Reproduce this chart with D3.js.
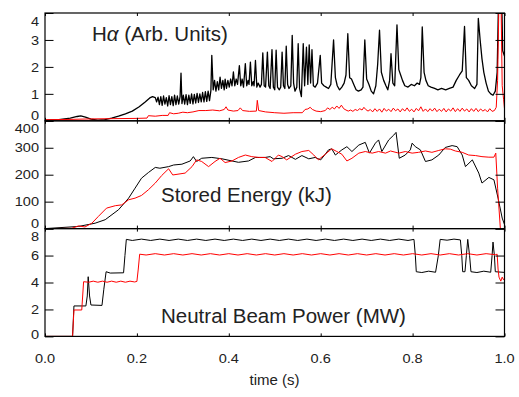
<!DOCTYPE html>
<html><head><meta charset="utf-8">
<script src="https://cdn.jsdelivr.net/npm/d3@7"></script>
<style>body{margin:0;background:#fff}svg{display:block}text{font-family:"Liberation Sans",Arial,sans-serif;fill:#222}</style>
</head><body><svg id="c" width="519" height="397"></svg>
<script>
// ---- data (time in s, value) ----
const xTicks = [0.0, 0.2, 0.4, 0.6, 0.8, 1.0];
const xTickLabels = ["0.0", "0.2", "0.4", "0.6", "0.8", "1.0"];
const haTicks = [0, 1, 2, 3, 4];
const weTicks = [0, 100, 200, 300, 400];
const nbTicks = [0, 2, 4, 6, 8];
const titles = ["H\u03b1 (Arb. Units)", "Stored Energy (kJ)", "Neutral Beam Power (MW)"];

const haBlack = [[0,0.02],[0.03,0.04],[0.055,0.1],[0.07,0.16],[0.078,0.18],[0.088,0.14],[0.1,0.06],[0.115,0.02],[0.13,0.04],[0.145,0.1],[0.16,0.17],[0.175,0.26],[0.19,0.36],[0.205,0.52],[0.218,0.7],[0.228,0.85],[0.234,0.9],[0.24,0.86],
[0.243,0.7],[0.246,0.88],[0.249,0.6],[0.252,0.9],[0.255,0.57],[0.258,0.92],[0.261,0.62],[0.264,0.86],[0.267,0.55],[0.27,0.93],[0.273,0.6],[0.276,0.9],[0.279,0.56],[0.282,0.95],[0.285,0.6],[0.288,0.92],[0.291,0.62],[0.294,0.9],[0.296,1.77],[0.298,0.64],[0.301,0.95],[0.304,0.62],[0.307,0.97],[0.31,0.6],[0.313,0.95],[0.316,0.65],[0.319,1.0],[0.322,0.63],[0.325,0.98],[0.328,0.66],[0.331,1.02],[0.334,0.68],[0.337,1.0],[0.34,0.7],[0.343,1.05],[0.346,0.7],[0.349,1.08],[0.352,0.72],[0.355,1.1],[0.358,0.75],[0.361,1.12],[0.363,2.43],[0.366,1.15],
[0.369,1.5],[0.372,1.1],[0.375,1.45],[0.378,1.15],[0.381,1.62],[0.384,1.2],[0.387,1.5],[0.39,1.15],[0.392,1.55],[0.395,1.2],[0.398,1.5],[0.401,1.25],[0.404,1.55],[0.407,1.3],[0.41,1.81],[0.413,1.3],[0.416,1.55],[0.419,1.35],[0.423,2.05],[0.426,1.3],[0.429,1.55],[0.432,1.25],[0.436,2.12],[0.439,1.3],[0.442,1.5],[0.444,1.35],[0.447,2.18],[0.45,1.3],[0.453,1.45],[0.455,1.3],[0.458,2.24],[0.461,1.25],[0.464,1.4],[0.468,1.25],[0.471,1.35],[0.474,2.52],[0.477,1.3],[0.48,1.25],[0.484,2.55],[0.487,1.3],[0.49,1.2],[0.494,2.64],[0.497,1.25],[0.5,1.15],[0.503,2.62],[0.506,1.25],[0.51,1.15],[0.513,1.25],[0.516,2.55],[0.519,1.3],[0.522,1.2],[0.525,2.77],[0.528,1.35],[0.531,1.2],[0.535,1.3],[0.538,3.17],[0.541,1.4],[0.544,1.1],[0.548,1.25],[0.551,2.86],[0.554,1.2],[0.558,0.9],[0.562,2.86],[0.565,1.3],[0.569,2.73],[0.572,1.35],[0.575,2.82],[0.578,1.4],[0.581,2.64],[0.584,1.3],[0.588,1.25],[0.593,1.4],[0.599,2.43],[0.602,1.4],[0.607,1.3],[0.612,1.25],[0.617,1.2],[0.622,1.35],[0.628,3.0],[0.632,1.6],[0.636,1.3],[0.641,1.15],[0.646,1.25],[0.651,1.4],[0.655,1.7],[0.659,3.23],[0.663,1.6],[0.667,1.55],[0.672,1.35],[0.677,1.15],[0.682,1.1],[0.688,1.15],[0.692,1.25],[0.696,3.0],[0.7,1.55],[0.705,1.35],[0.71,1.1],[0.715,1.0],[0.72,1.3],[0.724,2.1],[0.728,3.36],[0.732,1.8],[0.737,1.5],[0.742,1.3],[0.746,1.15],[0.75,1.5],[0.753,2.49],[0.757,1.4],[0.761,1.3],[0.766,3.56],[0.77,1.9],[0.774,1.7],[0.778,1.5],[0.783,1.3],[0.79,1.25],[0.797,1.35],[0.804,1.3],[0.81,1.4],[0.815,1.35],[0.818,1.6],[0.821,3.48],[0.825,1.8],[0.829,1.5],[0.834,1.3],[0.84,1.25],[0.848,1.2],[0.855,1.15],[0.863,1.2],[0.872,1.15],[0.88,1.2],[0.888,1.25],[0.895,1.5],[0.902,1.7],[0.908,1.85],[0.913,3.5],[0.917,1.6],[0.922,1.5],[0.928,1.3],[0.935,1.2],[0.94,1.35],[0.943,3.8],[0.947,3.0],[0.951,2.3],[0.955,1.8],[0.96,1.4],[0.965,1.1],[0.97,1.0],[0.975,0.95],[0.98,1.1],[0.984,1.8],[0.987,4.5],[0.991,5],[0.994,4.5],[0.996,2.6],[1.0,2.4]];

const haRed = [[0,0.04],[0.05,0.05],[0.1,0.07],[0.15,0.08],[0.2,0.09],[0.222,0.1],[0.225,0.19],[0.24,0.17],[0.255,0.2],[0.268,0.2],[0.271,0.3],[0.28,0.26],[0.29,0.28],[0.3,0.32],[0.31,0.3],[0.322,0.33],[0.335,0.38],[0.35,0.38],[0.365,0.4],[0.38,0.37],[0.39,0.42],[0.394,0.52],[0.398,0.4],[0.41,0.36],[0.42,0.38],[0.425,0.48],[0.43,0.38],[0.445,0.35],[0.46,0.36],[0.462,0.76],[0.465,0.38],[0.48,0.33],[0.5,0.3],[0.52,0.28],[0.54,0.3],[0.56,0.3],[0.566,0.42],[0.572,0.44],[0.577,0.5],[0.582,0.42],[0.59,0.36],[0.6,0.34],[0.61,0.38],[0.615,0.48],[0.62,0.42],[0.625,0.5],[0.63,0.44],[0.635,0.55],[0.64,0.46],[0.645,0.58],[0.65,0.45],[0.655,0.4],[0.66,0.36],[0.665,0.4],[0.67,0.35],[0.675,0.42],[0.68,0.38],[0.685,0.45],[0.69,0.4],[0.694,0.5],[0.698,0.42],[0.703,0.36],
[0.708,0.42],[0.713,0.33],[0.718,0.45],[0.723,0.35],[0.728,0.44],[0.733,0.32],[0.738,0.46],[0.743,0.36],[0.748,0.43],[0.753,0.34],[0.758,0.47],[0.763,0.37],[0.768,0.44],[0.773,0.33],[0.778,0.45],[0.783,0.36],[0.788,0.48],[0.793,0.35],[0.798,0.43],[0.803,0.33],[0.808,0.46],[0.813,0.37],[0.818,0.52],[0.823,0.35],[0.828,0.44],[0.833,0.34],[0.838,0.45],[0.843,0.36],[0.848,0.47],[0.853,0.34],[0.858,0.43],[0.863,0.35],[0.868,0.46],[0.873,0.33],[0.878,0.44],[0.883,0.36],[0.888,0.48],[0.893,0.34],[0.898,0.45],[0.903,0.35],[0.908,0.47],[0.913,0.36],[0.918,0.44],[0.923,0.33],[0.928,0.45],[0.933,0.35],[0.938,0.46],[0.943,0.34],[0.948,0.44],[0.953,0.36],[0.958,0.42],[0.963,0.33],[0.968,0.45],[0.973,0.35],[0.978,0.38],[0.982,0.5],[0.985,1.5],[0.988,4.5],[0.992,5],[0.995,1.3],[0.998,0.8],[1.0,0.45]];

const weBlack = [[0,0],[0.073,8],[0.109,20],[0.131,33],[0.16,70],[0.182,113],[0.196,150],[0.21,187],[0.225,208],[0.24,227],[0.25,224],[0.269,230],[0.28,236],[0.298,239],[0.316,251],[0.323,267],[0.33,249],[0.341,261],[0.363,264],[0.385,259],[0.407,251],[0.421,246],[0.443,251],[0.458,264],[0.479,264],[0.49,267],[0.497,259],[0.516,261],[0.53,271],[0.545,257],[0.559,271],[0.574,259],[0.588,264],[0.6,255],[0.61,276],[0.617,292],[0.624,296],[0.632,273],[0.646,292],[0.657,304],[0.668,286],[0.683,310],[0.697,320],[0.706,280],[0.719,317],[0.726,329],[0.733,286],[0.748,329],[0.759,347],[0.764,357],[0.771,261],[0.784,273],[0.795,292],[0.799,317],[0.806,304],[0.817,292],[0.828,249],[0.842,255],[0.857,273],[0.871,301],[0.886,308],[0.897,304],[0.908,273],[0.915,230],[0.93,255],[0.944,206],[0.951,169],[0.966,190],[0.977,181],[0.986,113],[0.995,39],[1.0,15]];

const weRed = [[0,0],[0.058,1],[0.073,10],[0.087,6],[0.102,20],[0.116,45],[0.134,76],[0.153,85],[0.167,88],[0.182,107],[0.196,113],[0.21,123],[0.225,144],[0.24,169],[0.254,197],[0.269,222],[0.278,199],[0.305,206],[0.32,230],[0.33,255],[0.341,249],[0.356,230],[0.37,249],[0.381,261],[0.392,245],[0.407,251],[0.421,264],[0.436,273],[0.45,267],[0.465,264],[0.479,264],[0.494,249],[0.508,273],[0.516,267],[0.526,255],[0.545,276],[0.559,286],[0.574,290],[0.585,273],[0.595,255],[0.61,276],[0.624,296],[0.635,286],[0.646,276],[0.657,251],[0.668,261],[0.683,280],[0.697,286],[0.712,280],[0.726,286],[0.741,280],[0.752,288],[0.77,280],[0.784,286],[0.799,280],[0.813,283],[0.828,288],[0.842,283],[0.857,290],[0.871,296],[0.882,295],[0.893,288],[0.908,283],[0.922,273],[0.937,271],[0.951,267],[0.966,265],[0.977,265],[0.981,280],[0.985,150],[0.991,0],[1.0,0]];

const nbBlack = [[0,0],[0.06,0],[0.063,2.26],[0.089,2.26],[0.092,3.0],[0.094,4.43],[0.097,3.0],[0.1,2.33],[0.124,2.3],[0.128,3.5],[0.133,4.8],[0.142,4.7],[0.171,4.72],[0.174,6.0],[0.177,7.2],
[0.19,7.12],[0.21,7.22],[0.23,7.12],[0.25,7.22],[0.27,7.12],[0.29,7.22],[0.31,7.12],[0.33,7.22],[0.35,7.12],[0.37,7.22],[0.39,7.12],[0.41,7.22],[0.43,7.12],[0.45,7.22],[0.47,7.12],[0.49,7.22],[0.51,7.12],[0.53,7.22],[0.55,7.12],[0.57,7.22],[0.59,7.12],[0.61,7.22],[0.63,7.12],[0.65,7.22],[0.67,7.12],[0.69,7.22],[0.71,7.12],[0.73,7.22],[0.75,7.12],[0.77,7.22],[0.79,7.12],[0.803,7.2],
[0.806,6.0],[0.808,4.8],[0.82,4.74],[0.835,4.84],[0.85,4.76],[0.856,6.0],[0.86,7.2],[0.875,7.14],[0.89,7.22],[0.904,7.16],[0.907,6.0],[0.909,4.8],[0.914,4.8],[0.917,6.0],[0.92,7.2],[0.924,6.0],[0.927,4.8],[0.94,4.74],[0.955,4.84],[0.97,4.76],[0.973,6.0],[0.975,7.0],[0.978,6.0],[0.98,4.8],[1.0,4.75]];

const nbRed = [[0,0],[0.06,0],[0.063,1.96],[0.08,1.96],[0.084,4.06],[0.095,4.02],[0.105,4.1],[0.115,4.02],[0.125,4.1],[0.135,4.02],[0.145,4.1],[0.155,4.02],[0.165,4.1],[0.175,4.02],[0.185,4.1],[0.195,4.04],[0.2,4.08],[0.203,5.0],[0.206,6.1],
[0.22,6.04],[0.24,6.14],[0.26,6.04],[0.28,6.14],[0.3,6.04],[0.32,6.14],[0.34,6.04],[0.36,6.14],[0.38,6.04],[0.4,6.14],[0.42,6.04],[0.44,6.14],[0.46,6.04],[0.48,6.14],[0.5,6.04],[0.52,6.14],[0.54,6.04],[0.56,6.14],[0.58,6.04],[0.6,6.14],[0.62,6.04],[0.64,6.14],[0.66,6.04],[0.68,6.14],[0.7,6.04],[0.72,6.14],[0.74,6.04],[0.76,6.14],[0.78,6.04],[0.8,6.14],[0.82,6.04],[0.84,6.14],[0.86,6.04],[0.88,6.14],[0.9,6.04],[0.92,6.14],[0.94,6.04],[0.96,6.14],[0.98,6.06],[0.984,6.1],
[0.986,5.0],[0.988,4.4],[0.992,4.1],[0.995,4.4],[0.998,4.2],[1.0,4.3]];

// ---- layout ----
const L = 45, R = 504.5, T = 13, PH = 107.8;
const svg = d3.select("#c");
const x = d3.scaleLinear().domain([0, 1]).range([L, R]);

const panels = [
  {ticks: haTicks, series: [[haBlack, "#000", 1.3], [haRed, "#f00", 1]], title: titles[0], tx: 92, ty: 41, botShift: -5.5},
  {ticks: weTicks, series: [[weBlack, "#000", 1], [weRed, "#f00", 1]], title: titles[1], tx: 161, ty: 202, botShift: -5.5},
  {ticks: nbTicks, series: [[nbBlack, "#000", 1], [nbRed, "#f00", 1]], title: titles[2], tx: 161, ty: 322.5, botShift: -2.5}
];

panels.forEach((p, i) => {
  const top = T + i * PH, bot = top + PH;
  const y = d3.scaleLinear().domain([p.ticks[0], p.ticks[p.ticks.length - 1]]).range([bot, top]);
  const g = svg.append("g");
  const cid = "clip" + i;
  svg.append("clipPath").attr("id", cid).append("rect").attr("x", L).attr("y", top).attr("width", R - L).attr("height", PH);
  const line = d3.line().x(d => x(d[0])).y(d => y(d[1]));
  p.series.forEach(([data, col, w]) => {
    g.append("path").attr("clip-path", `url(#${cid})`).attr("d", line(data))
      .attr("fill", "none").attr("stroke", col).attr("stroke-width", w).attr("stroke-linejoin", "round");
  });
  const yl = d3.axisLeft(y).tickValues(p.ticks).tickSize(-8.5).tickFormat("");
  const yr = d3.axisRight(y).tickValues(p.ticks).tickSize(-9).tickFormat("");
  const xb = d3.axisBottom(x).tickValues(xTicks).tickSize(-3).tickFormat("");
  const xt = d3.axisTop(x).tickValues(xTicks).tickSize(-3).tickFormat("");
  [[yl, `translate(${L},0)`], [yr, `translate(${R},0)`], [xb, `translate(0,${bot})`], [xt, `translate(0,${top})`]].forEach(([ax, tr]) => {
    const a = g.append("g").attr("transform", tr).call(ax);
    a.select(".domain").remove();
    a.selectAll("line").attr("stroke", "#000").attr("stroke-width", 1);
  });
  g.append("rect").attr("x", L).attr("y", top).attr("width", R - L).attr("height", PH)
    .attr("fill", "none").attr("stroke", "#000").attr("stroke-width", 1.2);
  p.ticks.forEach((t, k) => {
    let cy = y(t);
    if (k === p.ticks.length - 1) cy += 8;
    if (k === 0) cy += p.botShift;
    g.append("text").attr("transform", `translate(39,${cy}) scale(1.12,1)`).attr("dy", "0.36em").attr("text-anchor", "end")
      .style("font-size", "13px").text(d3.format("d")(t));
  });
  const tt = g.append("text").attr("x", p.tx).attr("y", p.ty).style("font-size", "20.5px");
  if (i === 0) {
    tt.append("tspan").text("H");
    tt.append("tspan").style("font-style", "italic").text("\u03b1");
    tt.append("tspan").text(" (Arb. Units)");
  } else tt.text(p.title);
});

xTicks.forEach((t, k) => {
  svg.append("text").attr("transform", `translate(${x(t)},363) scale(1.12,1)`).attr("text-anchor", "middle")
    .style("font-size", "13px").text(xTickLabels[k]);
});
svg.append("text").attr("x", 274.5).attr("y", 385).attr("text-anchor", "middle").style("font-size", "15px").text("time (s)");
</script></body></html>
